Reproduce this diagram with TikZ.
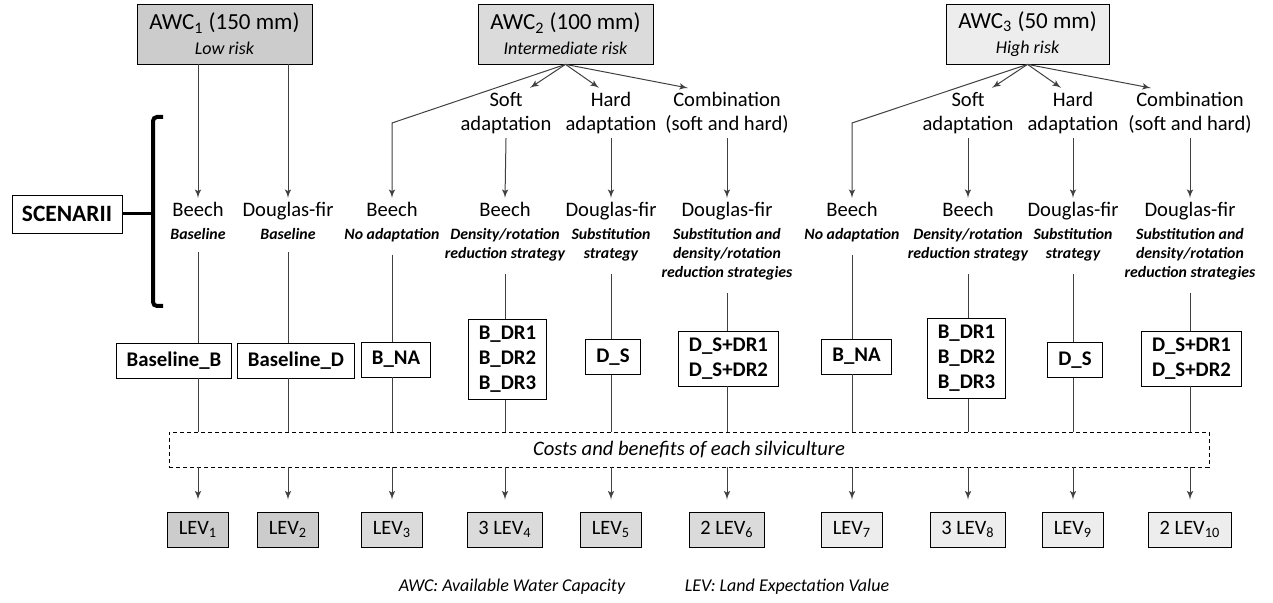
\documentclass[tikz,border=0pt]{standalone}
\usepackage{fontspec}
\setmainfont{Carlito}
\usetikzlibrary{arrows,calc,positioning}

\definecolor{lowrisk}{gray}{0.80}
\definecolor{midrisk}{gray}{0.86}
\definecolor{highrisk}{gray}{0.93}
\newcommand{\strat}[1]{{\bfseries\itshape\fontsize{7.9}{9.5}\selectfont #1}}

\begin{document}
\begin{tikzpicture}[auto,>=latex',x=0.5pt,y=-0.5pt]
	\tikzstyle{awc} = [draw, rectangle, minimum height=30pt, align=center, font=\fontsize{11.5}{12.5}\selectfont]
	\tikzstyle{scen} = [align=center, anchor=north, inner sep=2pt, font=\fontsize{10.3}{11.5}\selectfont]
	\tikzstyle{adapt} = [align=center, inner sep=2pt, font=\fontsize{10.3}{12}\selectfont]
	\tikzstyle{code} = [draw, rectangle, fill=white, align=center, inner xsep=5.25pt, minimum height=17.5pt, font=\bfseries\fontsize{10.4}{12.5}\selectfont]
	\tikzstyle{lev} = [draw, rectangle, inner xsep=5.5pt, minimum height=17.5pt, font=\fontsize{10.2}{12}\selectfont]
	\tikzstyle{conn} = [draw=black!75, line width=0.5pt]

	\useasboundingbox (0,0) rectangle (1273,603);

	% soil water classes
	\node [awc, fill=lowrisk, minimum width=87.5pt] (awc1) at (224.5,34) {AWC\textsubscript{1} (150 mm)\\{\itshape\fontsize{9}{10}\selectfont Low risk}};
	\node [awc, fill=midrisk, minimum width=87.5pt] (awc2) at (565.5,34) {AWC\textsubscript{2} (100 mm)\\{\itshape\fontsize{9}{10}\selectfont Intermediate risk}};
	\node [awc, fill=highrisk, minimum width=81.5pt] (awc3) at (1027.5,34) {AWC\textsubscript{3} (50 mm)\\{\itshape\fontsize{9}{10}\selectfont High risk}};

	% adaptation types
	\foreach \i/\x in {4/506, 8/968}
		{ \node [adapt] (a\i) at (\x,113) {Soft\\adaptation};}
	\foreach \i/\x in {5/611, 9/1073}
		{ \node [adapt] (a\i) at (\x,113) {Hard\\adaptation};}
	\foreach \i/\x in {6/727, 10/1190}
		{ \node [adapt] (a\i) at (\x,113) {Combination\\(soft and hard)};}

	% scenarii
	\node [scen] (s1) at (198,198) {Beech\\\strat{Baseline}};
	\node [scen] (s2) at (288,198) {Douglas-fir\\\strat{Baseline}};
	\node [scen] (s3) at (392,198) {Beech\\\strat{No adaptation}};
	\node [scen] (s4) at (505,198) {Beech\\\strat{Density/rotation}\\[-2pt]\strat{reduction strategy}};
	\node [scen] (s5) at (611,198) {Douglas-fir\\\strat{Substitution}\\[-2pt]\strat{strategy}};
	\node [scen] (s6) at (727,198) {Douglas-fir\\\strat{Substitution and}\\[-2pt]\strat{density/rotation}\\[-2pt]\strat{reduction strategies}};
	\node [scen] (s7) at (852,198) {Beech\\\strat{No adaptation}};
	\node [scen] (s8) at (968,198) {Beech\\\strat{Density/rotation}\\[-2pt]\strat{reduction strategy}};
	\node [scen] (s9) at (1073,198) {Douglas-fir\\\strat{Substitution}\\[-2pt]\strat{strategy}};
	\node [scen] (s10) at (1190,198) {Douglas-fir\\\strat{Substitution and}\\[-2pt]\strat{density/rotation}\\[-2pt]\strat{reduction strategies}};

	\node [draw, font=\bfseries\fontsize{11.7}{14}\selectfont, minimum width=55pt, minimum height=19pt] (scenarii) at (67,214) {SCENARII};
	\coordinate (brace) at (153,214);
	\draw [line width=2pt, rounded corners=2pt] (163,117) -- (153,117) -- (153,306) -- (163,306);
	\draw [line width=1.5pt] (scenarii) -- (brace);

	% silviculture codes
	\node [code] (b1) at (174,360.5) {Baseline\_B};
	\node [code] (b2) at (296,360.5) {Baseline\_D};
	\node [code] (b3) at (396,359.5) {B\_NA};
	\node [code] (b4) at (507.5,359.5) {B\_DR1\\B\_DR2\\B\_DR3};
	\node [code] (b5) at (613,357) {D\_S};
	\node [code] (b6) at (728.5,358.5) {D\_S+DR1\\D\_S+DR2};
	\node [code] (b7) at (856.5,356.5) {B\_NA};
	\node [code] (b8) at (966.5,358.5) {B\_DR1\\B\_DR2\\B\_DR3};
	\node [code] (b9) at (1075,360) {D\_S};
	\node [code] (b10) at (1191.5,358.5) {D\_S+DR1\\D\_S+DR2};

	\node [draw, dashed, dash pattern=on 2pt off 1.5pt, minimum width=520pt, minimum height=17.5pt, font=\itshape\fontsize{10.3}{12}\selectfont] (cost) at (689,449.5) {Costs and benefits of each silviculture};

	% land expectation values
	\coordinate (levrow) at (0,529.5);
	\foreach \i/\t/\c in {1/LEV\textsubscript{1}/lowrisk, 2/LEV\textsubscript{2}/lowrisk, 3/LEV\textsubscript{3}/midrisk, 4/3 LEV\textsubscript{4}/midrisk, 5/LEV\textsubscript{5}/midrisk, 6/2 LEV\textsubscript{6}/midrisk, 7/LEV\textsubscript{7}/highrisk, 8/3 LEV\textsubscript{8}/highrisk, 9/LEV\textsubscript{9}/highrisk, 10/2 LEV\textsubscript{10}/highrisk}
		{ \node [lev, fill=\c] (l\i) at (s\i |- levrow) {\t};}

	\node [font=\itshape\fontsize{9}{11}\selectfont] (awcnote) at (512,587) {AWC: Available Water Capacity};
	\node [font=\itshape\fontsize{9}{11}\selectfont] (levnote) at (787,587) {LEV: Land Expectation Value};

	% connectors
	\draw [conn,->] (awc1.south -| s1) -- (s1.north);
	\draw [conn,->] (awc1.south -| s2) -- (s2.north);
	\draw [conn,->] (awc2.south) -- (s3.north |- 0,123) -- (s3.north);
	\draw [conn,->] (awc3.south) -- (s7.north |- 0,123) -- (s7.north);
	\foreach \i/\a in {4/awc2, 8/awc3}
		\draw [conn,->] (\a.south) -- ($(a\i.north)+(24,0)$);
	\foreach \i/\a in {5/awc2, 9/awc3}
		\draw [conn,->] (\a.south) -- ($(a\i.north)+(-12,0)$);
	\foreach \i/\a in {6/awc2, 10/awc3}
		\draw [conn,->] (\a.south) -- ($(a\i.north)+(-39,0)$);
	\foreach \i in {4,5,6,8,9,10}
		\draw [conn,->] (a\i.south) -- (s\i.north);

	\foreach \i in {1,...,10}
	{
		\draw [conn, shorten <=4pt] (s\i.south) -- (s\i.south |- b\i.north);
		\draw [conn] (s\i.south |- b\i.south) -- (s\i.south |- cost.north);
		\draw [conn,->, shorten >=6pt] (s\i.south |- cost.south) -- (s\i.south |- l\i.north);
	}
\end{tikzpicture}
\end{document}
